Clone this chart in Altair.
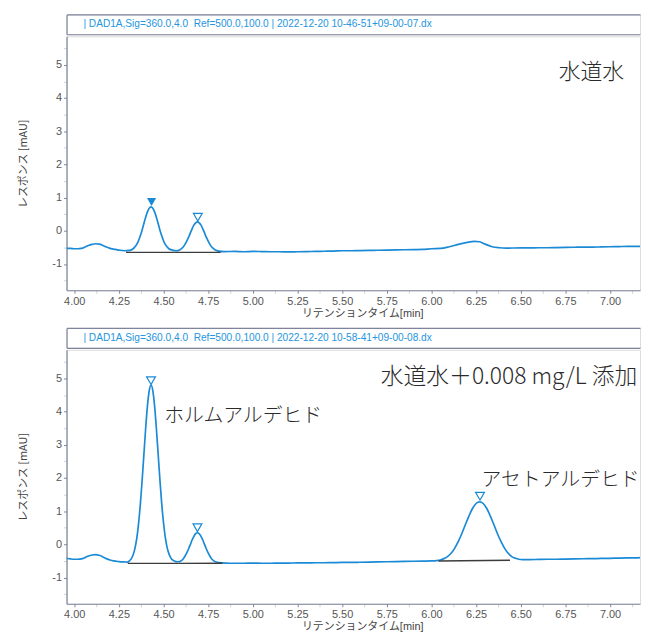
import altair as alt
import pandas as pd

# ---------------- data ----------------
# Panel 1 : 水道水
t1 = [3.957, 3.98, 4.00, 4.02, 4.04, 4.06, 4.08, 4.10, 4.12, 4.14, 4.16, 4.18, 4.20, 4.22, 4.25, 4.28,
      4.31, 4.33, 4.35, 4.36, 4.37, 4.38, 4.39, 4.40, 4.41, 4.42, 4.43, 4.44, 4.45, 4.46, 4.47, 4.48,
      4.49, 4.50, 4.51, 4.53, 4.55,
      4.57, 4.59, 4.61, 4.62, 4.63, 4.64, 4.65, 4.66, 4.67, 4.68, 4.69, 4.70, 4.71, 4.72, 4.73, 4.74,
      4.75, 4.76, 4.77, 4.79, 4.81, 4.84,
      4.90, 4.95, 5.00, 5.05, 5.10, 5.15, 5.20, 5.25, 5.30, 5.35, 5.40, 5.45, 5.50, 5.55, 5.60, 5.65,
      5.70, 5.75, 5.80, 5.85, 5.90, 5.95, 6.00,
      6.05, 6.10, 6.15, 6.20, 6.24, 6.27, 6.30, 6.34, 6.38, 6.42,
      6.50, 6.55, 6.60, 6.65, 6.70, 6.75, 6.80, 6.85, 6.90, 6.95, 7.00, 7.05, 7.10, 7.15, 7.20]
v1 = [-0.53, -0.53, -0.54, -0.54, -0.53, -0.49, -0.44, -0.41, -0.39, -0.40, -0.44, -0.49, -0.53, -0.55, -0.58, -0.60,
      -0.59, -0.54, -0.41, -0.30, -0.15, 0.02, 0.22, 0.41, 0.57, 0.68, 0.72, 0.68, 0.57, 0.41, 0.22, 0.02,
      -0.15, -0.30, -0.41, -0.54, -0.58,
      -0.60, -0.575, -0.49, -0.41, -0.31, -0.20, -0.07, 0.06, 0.17, 0.24, 0.27, 0.24, 0.17, 0.06, -0.07, -0.20,
      -0.31, -0.41, -0.49, -0.575, -0.61, -0.625,
      -0.62, -0.63, -0.62, -0.625, -0.63, -0.63, -0.635, -0.63, -0.625, -0.62, -0.615, -0.61, -0.60, -0.60, -0.595, -0.59,
      -0.585, -0.58, -0.575, -0.57, -0.565, -0.56, -0.54,
      -0.53, -0.48, -0.41, -0.35, -0.32, -0.33, -0.40, -0.48, -0.51, -0.52,
      -0.515, -0.515, -0.51, -0.51, -0.505, -0.50, -0.495, -0.49, -0.49, -0.485, -0.48, -0.475, -0.47, -0.47, -0.47]

# integration baselines (start time, end time, start value, end value)
b1_t0 = [4.29, 4.56]
b1_t1 = [4.56, 4.82]
b1_v0 = [-0.65, -0.65]
b1_v1 = [-0.65, -0.65]

# peak markers
m1_t = [4.433, 4.692]
m1_v = [0.87, 0.41]
m1_filled = [True, False]

# Panel 2 : 水道水＋0.008 mg/L 添加
t2 = [3.957, 3.98, 4.00, 4.02, 4.04, 4.06, 4.08, 4.10, 4.12, 4.14, 4.16, 4.18, 4.20, 4.22, 4.25, 4.28, 4.30,
      4.31, 4.32, 4.33, 4.34, 4.35, 4.36, 4.37, 4.38, 4.39, 4.40, 4.41, 4.42, 4.43,
      4.44, 4.45, 4.46, 4.47, 4.48, 4.49, 4.50, 4.51, 4.52, 4.53, 4.54, 4.55, 4.56, 4.58,
      4.59, 4.60, 4.61, 4.62, 4.63, 4.64, 4.65, 4.66, 4.67, 4.68, 4.69,
      4.70, 4.71, 4.72, 4.73, 4.74, 4.75, 4.76, 4.77, 4.78, 4.80, 4.83, 4.87,
      4.95, 5.00, 5.05, 5.10, 5.15, 5.20, 5.25, 5.30, 5.35, 5.40, 5.45, 5.50, 5.55, 5.60, 5.65, 5.70,
      5.75, 5.80, 5.85, 5.90, 5.95, 6.00,
      6.03, 6.05, 6.07, 6.09, 6.11, 6.13, 6.15, 6.17, 6.19, 6.21, 6.23, 6.25, 6.27,
      6.29, 6.31, 6.33, 6.35, 6.37, 6.39, 6.41, 6.43, 6.45, 6.47, 6.49, 6.51,
      6.55, 6.60, 6.65, 6.70, 6.75, 6.80, 6.85, 6.90, 6.95, 7.00, 7.05, 7.10, 7.15, 7.20]
v2 = [-0.42, -0.44, -0.45, -0.45, -0.44, -0.40, -0.35, -0.32, -0.31, -0.33, -0.38, -0.43, -0.47, -0.50, -0.52, -0.53, -0.535,
      -0.49, -0.43, -0.315, -0.12, 0.17, 0.61, 1.19, 1.90, 2.70, 3.49, 4.17, 4.63, 4.80,
      4.63, 4.17, 3.49, 2.72, 1.93, 1.22, 0.65, 0.21, -0.09, -0.28, -0.40, -0.47, -0.50, -0.525,
      -0.52, -0.49, -0.44, -0.36, -0.26, -0.14, -0.01, 0.13, 0.24, 0.32, 0.35,
      0.32, 0.24, 0.13, -0.01, -0.14, -0.26, -0.36, -0.44, -0.49, -0.54, -0.56, -0.57,
      -0.57, -0.565, -0.57, -0.57, -0.565, -0.565, -0.56, -0.56, -0.555, -0.555, -0.55, -0.545, -0.545, -0.54, -0.535, -0.53,
      -0.525, -0.52, -0.515, -0.51, -0.505, -0.50,
      -0.49, -0.47, -0.43, -0.37, -0.27, -0.12, 0.08, 0.32, 0.59, 0.85, 1.08, 1.23, 1.28,
      1.23, 1.08, 0.85, 0.59, 0.32, 0.08, -0.12, -0.27, -0.37, -0.42, -0.45, -0.46,
      -0.46, -0.455, -0.45, -0.45, -0.445, -0.44, -0.435, -0.43, -0.425, -0.42, -0.415, -0.41, -0.405, -0.40]

b2_t0 = [4.30, 4.585, 6.04]
b2_t1 = [4.585, 4.83, 6.44]
b2_v0 = [-0.575, -0.575, -0.50]
b2_v1 = [-0.575, -0.57, -0.48]

m2_t = [4.43, 4.69, 6.272]
m2_v = [4.93, 0.50, 1.45]
m2_filled = [False, False, False]

header1 = "| DAD1A,Sig=360.0,4.0\u00a0 Ref=500.0,100.0 | 2022-12-20 10-46-51+09-00-07.dx"
header2 = "| DAD1A,Sig=360.0,4.0\u00a0 Ref=500.0,100.0 | 2022-12-20 10-58-41+09-00-08.dx"
x_title = "リテンションタイム[min]"
y_title = "レスポンス [mAU]"
x_tick_values = [4.0 + 0.125 * k for k in range(26)]
y_tick_values = [-1.5 + 0.5 * k for k in range(15)]

# annotations (text, x px, y px, size, align)
ann1 = [("水道水", 529, 36, 22, "center")]
ann2 = [("水道水＋0.008 mg/L 添加", 446, 27, 23, "center"),
        ("ホルムアルデヒド", 178, 67, 20, "center"),
        ("アセトアルデヒド", 498, 131, 20, "center")]

# ---------------- style ----------------
W = 578
H_PLOT = 256
H_HEAD = 20
XDOM = [3.957, 7.168]
YDOM = [-1.79, 5.86]
BLUE = "#1a8ad6"
HEAD_BLUE = "#2595e0"
AXC = "#7e849c"
MINC = "#cdd0da"
LABC = "#555555"
LATIN = "Liberation Sans, Noto Sans CJK JP"
JP = "Noto Sans CJK JP"


def xenc(field):
    return alt.X(field, type="quantitative", title=x_title,
                 scale=alt.Scale(domain=XDOM, nice=False, zero=False),
                 axis=alt.Axis(values=x_tick_values,
                               labelExpr="(datum.value*4) % 1 == 0 ? format(datum.value, '.2f') : ''",
                               tickColor={"condition": {"test": "(datum.value*4) % 1 != 0", "value": MINC}, "value": AXC},
                               tickSize=3, labelPadding=2, labelFontSize=11, labelColor=LABC, labelFont=LATIN,
                               labelOverlap=False, labelFlush=False, grid=False, domainColor=AXC, domainWidth=1.2,
                               titleFont=LATIN, titleFontSize=11, titleFontWeight="normal", titleColor="#444444",
                               titlePadding=1, titleX=298))


def yenc(field):
    return alt.Y(field, type="quantitative", title=y_title,
                 scale=alt.Scale(domain=YDOM, nice=False, zero=False),
                 axis=alt.Axis(values=y_tick_values,
                               labelExpr="datum.value % 1 == 0 ? '' + datum.value : ''",
                               tickColor={"condition": {"test": "datum.value % 1 != 0", "value": MINC}, "value": AXC},
                               tickSize=3, labelPadding=2, labelFontSize=11, labelColor=LABC, labelFont=LATIN,
                               labelOverlap=False, grid=False, domainColor=AXC, domainWidth=1.2,
                               titleFont=JP, titleFontSize=11, titleFontWeight="normal", titleColor="#444444",
                               titlePadding=24))


def header_chart(text):
    hdf = pd.DataFrame({"hx": [0.0], "hy": [0.5], "label": [text]})
    ax_common = dict(labels=False, ticks=False, grid=False, domainColor=AXC, domainWidth=1.2)
    top = alt.Chart(hdf).mark_text(align="left", baseline="middle", dx=17, fontSize=10.2,
                                   font="Liberation Sans", color=HEAD_BLUE).encode(
        x=alt.X("hx:Q", title=None, scale=alt.Scale(domain=[0, 1]), axis=alt.Axis(orient="top", **ax_common)),
        y=alt.Y("hy:Q", title=None, scale=alt.Scale(domain=[0, 1]), axis=alt.Axis(orient="left", **ax_common)),
        text="label:N")
    bottom = alt.Chart(hdf).mark_point(opacity=0, size=1).encode(
        x=alt.X("hx:Q", title=None, scale=alt.Scale(domain=[0, 1]), axis=alt.Axis(orient="bottom", **ax_common)),
        y=alt.Y("hy:Q", title=None, scale=alt.Scale(domain=[0, 1]), axis=alt.Axis(orient="left", **ax_common)))
    return alt.layer(top, bottom).resolve_axis(x="independent").properties(width=W, height=H_HEAD)


def plot_chart(t, v, bt0, bt1, bv0, bv1, mt, mv, mf, anns):
    df = pd.DataFrame({"t": t, "v": v})
    bdf = pd.DataFrame({"t": bt0, "t1": bt1, "v": bv0, "v1": bv1})
    mdf = pd.DataFrame({"t": mt, "v": mv, "filled": mf})
    line = alt.Chart(df).mark_line(color=BLUE, strokeWidth=1.7, interpolate="monotone", clip=True).encode(
        x=xenc("t"), y=yenc("v"))
    base = alt.Chart(bdf).mark_rule(color="#3c3c3c", strokeWidth=1.4).encode(
        x=xenc("t"), x2="t1", y=yenc("v"), y2="v1")
    tri_f = alt.Chart(mdf).transform_filter("datum.filled").mark_point(
        shape="triangle-down", size=85, filled=True, color=BLUE, opacity=1).encode(x=xenc("t"), y=yenc("v"))
    tri_h = alt.Chart(mdf).transform_filter("!datum.filled").mark_point(
        shape="triangle-down", size=80, filled=False, color=BLUE, strokeWidth=1.2, opacity=1).encode(
        x=xenc("t"), y=yenc("v"))
    layers = [line, base, tri_f, tri_h]
    dummy = pd.DataFrame({"a": [0]})
    for txt, px, py, fs, al in anns:
        layers.append(alt.Chart(dummy).mark_text(text=txt, font=JP, fontSize=fs, fontWeight=300,
                                                 color="#2a2a2a", align=al, baseline="middle").encode(
            x=alt.value(px), y=alt.value(py)))
    return alt.layer(*layers).properties(width=W, height=H_PLOT)


panel1 = alt.vconcat(header_chart(header1),
                     plot_chart(t1, v1, b1_t0, b1_t1, b1_v0, b1_v1, m1_t, m1_v, m1_filled, ann1), spacing=0)
panel2 = alt.vconcat(header_chart(header2),
                     plot_chart(t2, v2, b2_t0, b2_t1, b2_v0, b2_v1, m2_t, m2_v, m2_filled, ann2), spacing=0)

chart = alt.vconcat(panel1, panel2, spacing=8).properties(
    padding={"left": 8, "top": 3, "right": 0, "bottom": 0}
).configure_view(stroke=None).configure(font=LATIN)

chart.save("out.html", embed_options={"renderer": "svg", "actions": False})
